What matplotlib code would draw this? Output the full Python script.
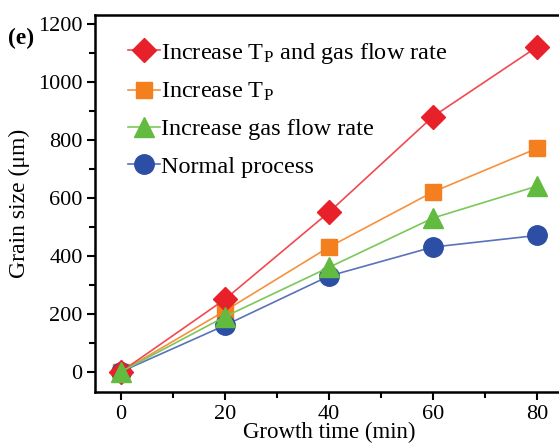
import matplotlib.pyplot as plt
from matplotlib.ticker import MultipleLocator

plt.rcParams['font.family'] = 'Liberation Serif'
plt.rcParams['mathtext.fontset'] = 'stix'

# Data
time_min = [0, 20, 40, 60, 80]
tp_and_gas = [0, 250, 550, 880, 1120]
tp_only = [0, 210, 430, 620, 770]
gas_only = [0, 190, 360, 530, 640]
normal = [0, 160, 330, 430, 470]

labels = ['Increase T$_\\mathregular{P}$ and gas flow rate',
          'Increase T$_\\mathregular{P}$',
          'Increase gas flow rate',
          'Normal process']

fig = plt.figure(figsize=(5.59, 4.43), dpi=100)
ax = fig.add_axes([0.170, 0.115, 0.837, 0.851])

# plotting order chosen so overlaps look like the original
l_tp, = ax.plot(time_min, tp_only, '-s', color='#f7913d', mfc='#f47f1f', mec='#f47f1f',
                lw=1.2, ms=12, label=labels[1], zorder=3)
l_norm, = ax.plot(time_min, normal, '-o', color='#5a73b8', mfc='#2d4ea5', mec='#2d4ea5',
                  lw=1.2, ms=14, label=labels[3], zorder=3)
l_both, = ax.plot(time_min, tp_and_gas, '-D', color='#f04a50', mfc='#e8202a', mec='#e8202a',
                  lw=1.2, ms=12, label=labels[0], zorder=4)
l_gas, = ax.plot(time_min, gas_only, '-^', color='#7cc75a', mfc='#62bb3f', mec='#62bb3f',
                 lw=1.2, ms=14, label=labels[2], zorder=5)

ax.set_xlim(-5, 85)
ax.set_ylim(-70, 1230)
ax.xaxis.set_major_locator(MultipleLocator(20))
ax.xaxis.set_minor_locator(MultipleLocator(10))
ax.yaxis.set_major_locator(MultipleLocator(200))
ax.yaxis.set_minor_locator(MultipleLocator(100))
ax.tick_params(which='both', direction='out', width=1.5, labelsize=16)
ax.tick_params(which='major', length=6, pad=3)
ax.tick_params(which='minor', length=4)
for s in ax.spines.values():
    s.set_linewidth(1.8)

ax.set_xlabel('Growth time (min)', fontsize=16.5, labelpad=-1)
ax.set_ylabel('Grain size (\u03bcm)', fontsize=17, labelpad=6)

ax.legend(handles=[l_both, l_tp, l_gas, l_norm], loc='upper left', frameon=False,
          fontsize=17.5, handlelength=1.3, handletextpad=0.05, labelspacing=0.62,
          borderaxespad=0.2, bbox_to_anchor=(0.04, 0.97))

fig.text(0.014, 0.9, '(e)', fontsize=17, fontweight='bold')

fig.savefig('out.png', dpi=100)
